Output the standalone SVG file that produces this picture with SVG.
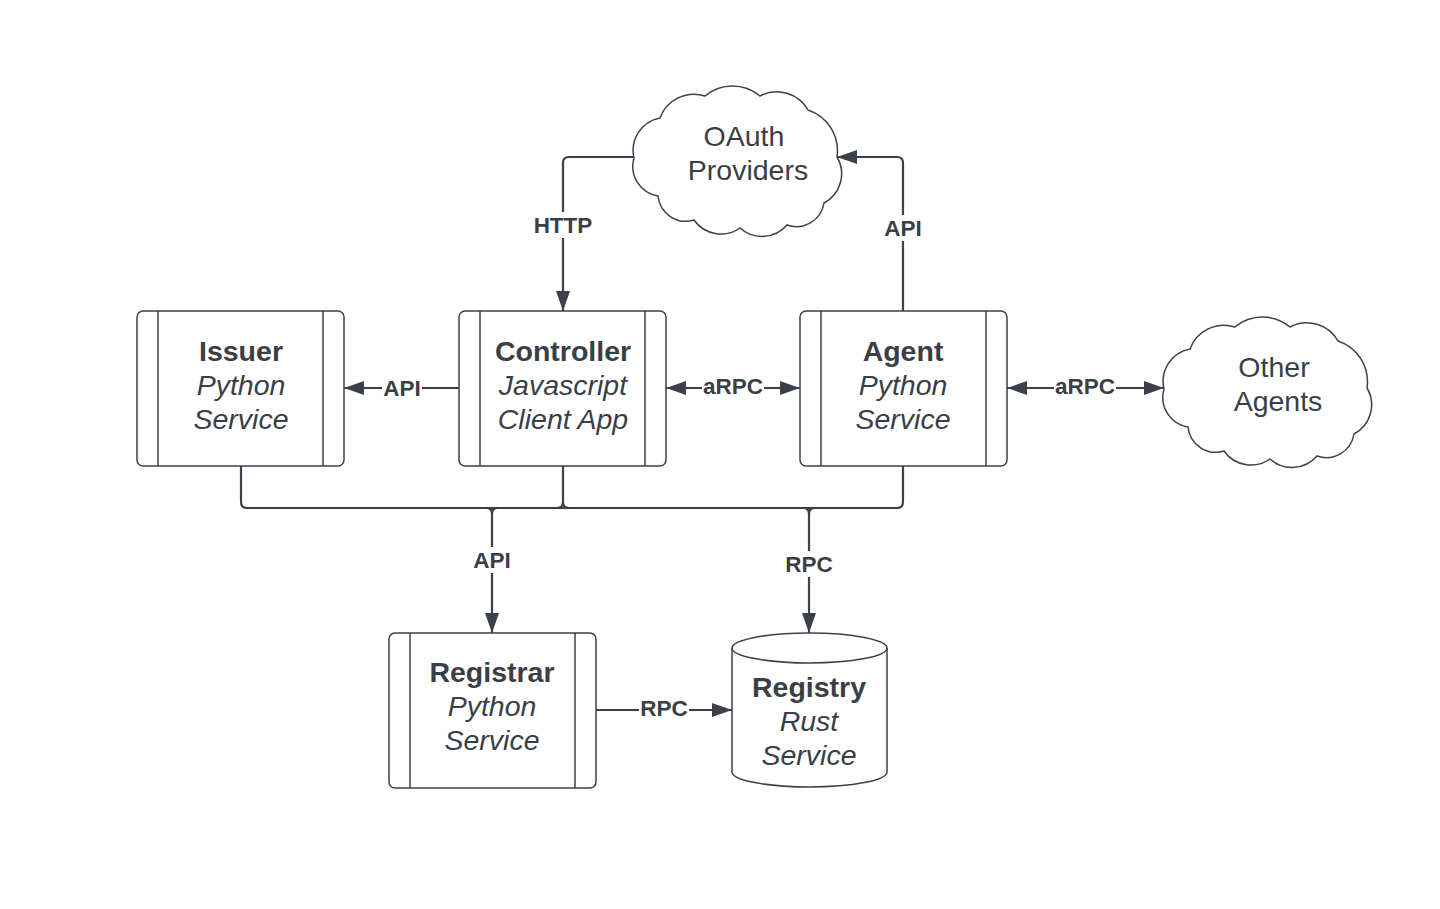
<svg xmlns="http://www.w3.org/2000/svg" width="1440" height="909" viewBox="0 0 1440 909">
<style>
.box{fill:#fff;stroke:#3c4149;stroke-width:1.5}
.div{stroke:#3c4149;stroke-width:1.5}
.ln{fill:none;stroke:#3c4149;stroke-width:2.2}
.t{font-family:"Liberation Sans",Arial,sans-serif;fill:#3a3f47;text-anchor:middle}
.b{font-weight:bold;font-size:28.5px}
.i{font-style:italic;font-size:28.5px}
.r{font-size:28.5px}
.lb{font-family:"Liberation Sans",Arial,sans-serif;font-weight:bold;font-size:22.5px;fill:#3a3f47;text-anchor:middle}
.lbg{fill:#fff}
</style>
<defs>
<marker id="ah" viewBox="0 0 20 14" refX="20" refY="7" markerWidth="20" markerHeight="14" markerUnits="userSpaceOnUse" orient="auto-start-reverse">
<path d="M0,0 L20,7 L0,14 Z" fill="#3c4149"/>
</marker>
<path id="cloud" d="M634,158 A33,33 0 0 1 660,118 A36,36 0 0 1 705,96 A43,43 0 0 1 760,96 A36,36 0 0 1 808,110 A43,43 0 0 1 837,157 A33,33 0 0 1 824,203 A28,28 0 0 1 787,225 A33,33 0 0 1 740,228 A33,33 0 0 1 694,220 A28,28 0 0 1 658,196 A30,30 0 0 1 634,158 Z"/>
</defs>
<rect width="1440" height="909" fill="#fff"/>

<g id="connectors">
<path class="ln" d="M634,157 L569,157 Q563,157 563,163 L563,311" marker-end="url(#ah)"/>
<path class="ln" d="M903,311 L903,163 Q903,157 897,157 L837,157" marker-end="url(#ah)"/>
<path class="ln" d="M459,388 L344,388" marker-end="url(#ah)"/>
<path class="ln" d="M666,388 L800,388" marker-start="url(#ah)" marker-end="url(#ah)"/>
<path class="ln" d="M1007,388 L1164,388" marker-start="url(#ah)" marker-end="url(#ah)"/>
<path class="ln" d="M241,466 L241,502 Q241,508 247,508 L897,508 Q903,508 903,502 L903,466"/>
<path class="ln" d="M563,466 L563,502 M557,508 Q563,508 563,502 Q563,508 569,508"/>
<path class="ln" d="M486,508 Q492,508 492,514 Q492,508 498,508 M492,514 L492,633" marker-end="url(#ah)"/>
<path class="ln" d="M803,508 Q809,508 809,514 Q809,508 815,508 M809,514 L809,633" marker-end="url(#ah)"/>
<path class="ln" d="M596,710 L732,710" marker-end="url(#ah)"/>
<rect class="lbg" x="531" y="212" width="64" height="26"/>
<text class="lb" x="563" y="233">HTTP</text>
<rect class="lbg" x="882" y="215" width="42" height="26"/>
<text class="lb" x="903" y="236">API</text>
<rect class="lbg" x="382" y="375" width="40" height="26"/>
<text class="lb" x="402" y="396">API</text>
<rect class="lbg" x="702" y="373" width="62" height="26"/>
<text class="lb" x="733" y="394">aRPC</text>
<rect class="lbg" x="1054" y="373" width="62" height="26"/>
<text class="lb" x="1085" y="394">aRPC</text>
<rect class="lbg" x="471" y="547" width="42" height="26"/>
<text class="lb" x="492" y="568">API</text>
<rect class="lbg" x="784" y="551" width="50" height="26"/>
<text class="lb" x="809" y="572">RPC</text>
<rect class="lbg" x="639" y="695" width="50" height="26"/>
<text class="lb" x="664" y="716">RPC</text>
</g>

<g id="oauth">
<use href="#cloud" fill="#fff" stroke="#3c4149" stroke-width="1.5"/>
<text class="t r" x="744" y="146">OAuth</text>
<text class="t r" x="748" y="180">Providers</text>
</g>

<g id="other-agents">
<use href="#cloud" transform="translate(530,231)" fill="#fff" stroke="#3c4149" stroke-width="1.5"/>
<text class="t r" x="1274" y="377">Other</text>
<text class="t r" x="1278" y="411">Agents</text>
</g>

<g id="issuer">
<rect class="box" x="137" y="311" width="207" height="155" rx="6"/>
<line class="div" x1="158" y1="311" x2="158" y2="466"/>
<line class="div" x1="323" y1="311" x2="323" y2="466"/>
<text class="t b" x="241" y="361">Issuer</text>
<text class="t i" x="241" y="395">Python</text>
<text class="t i" x="241" y="429">Service</text>
</g>

<g id="controller">
<rect class="box" x="459" y="311" width="207" height="155" rx="6"/>
<line class="div" x1="480" y1="311" x2="480" y2="466"/>
<line class="div" x1="645" y1="311" x2="645" y2="466"/>
<text class="t b" x="563" y="361">Controller</text>
<text class="t i" x="563" y="395">Javascript</text>
<text class="t i" x="563" y="429">Client App</text>
</g>

<g id="agent">
<rect class="box" x="800" y="311" width="207" height="155" rx="6"/>
<line class="div" x1="821" y1="311" x2="821" y2="466"/>
<line class="div" x1="986" y1="311" x2="986" y2="466"/>
<text class="t b" x="903" y="361">Agent</text>
<text class="t i" x="903" y="395">Python</text>
<text class="t i" x="903" y="429">Service</text>
</g>

<g id="registrar">
<rect class="box" x="389" y="633" width="207" height="155" rx="6"/>
<line class="div" x1="410" y1="633" x2="410" y2="788"/>
<line class="div" x1="575" y1="633" x2="575" y2="788"/>
<text class="t b" x="492" y="682">Registrar</text>
<text class="t i" x="492" y="716">Python</text>
<text class="t i" x="492" y="750">Service</text>
</g>

<g id="registry">
<path class="box" d="M732,648 A77.5,15 0 0 1 887,648 L887,772 A77.5,15 0 0 1 732,772 Z"/>
<path fill="none" stroke="#3c4149" stroke-width="1.5" d="M732,648 A77.5,15 0 0 0 887,648"/>
<text class="t b" x="809" y="697">Registry</text>
<text class="t i" x="809" y="731">Rust</text>
<text class="t i" x="809" y="765">Service</text>
</g>
</svg>
